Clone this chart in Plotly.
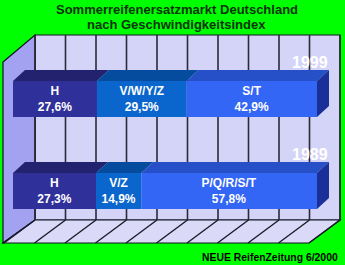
import plotly.graph_objects as go

# ---- data ----
years = ["1999", "1989"]
segments_1999 = ["H", "V/W/Y/Z", "S/T"]
values_1999 = [27.6, 29.5, 42.9]
segments_1989 = ["H", "V/Z", "P/Q/R/S/T"]
values_1989 = [27.3, 14.9, 57.8]
front_colors = ["#30309A", "#0A66CC", "#3366F4"]
top_colors = ["#22226E", "#064C9E", "#2650C8"]
side_color = "#1B2F98"
title_lines = ["Sommerreifenersatzmarkt Deutschland", "nach Geschwindigkeitsindex"]
source_text = "NEUE ReifenZeitung 6/2000"

W, H = 345, 265
SX = 3.04      # px per % on the bar plane
X0PX = 13      # pixel of 0% on bar plane
YC0 = 99       # pixel centre of first category
SY = 92        # px per category


def px2x(p):
    return (p - X0PX) / SX


def px2y(p):
    return (p - YC0) / SY


bar_w = 36 / SY
ddx = 12 / SX
ddy = -11 / SY

fig = go.Figure()
shapes = []

# ---- box: back wall, left wall, floor ----
bx0, bx1 = px2x(35), px2x(340)
by0, by1 = px2y(35), px2y(220)
fx0 = px2x(4)
fy = px2y(243)
lx = px2x(3)
ly_top = px2y(62)
fx1 = fx0 + (bx1 - bx0)


def path(pts):
    return "M " + " L ".join(f"{a},{b}" for a, b in pts) + " Z"


shapes.append(dict(type="path", path=path([(bx0, by0), (bx1, by0), (bx1, by1), (bx0, by1)]),
                   fillcolor="#D4D4F8", line=dict(color="#111122", width=1.2), layer="below"))
shapes.append(dict(type="path", path=path([(lx, ly_top), (bx0, by0), (bx0, by1), (lx, fy)]),
                   fillcolor="#A2A2F0", line=dict(color="#111122", width=1.2), layer="below"))
shapes.append(dict(type="path", path=path([(bx0, by1), (bx1, by1), (fx1, fy), (lx, fy)]),
                   fillcolor="#DADAF8", line=dict(color="#111122", width=1.2), layer="below"))

for k in range(11):
    gx = bx0 + k * (bx1 - bx0) / 10
    shapes.append(dict(type="line", x0=gx, x1=gx, y0=by0, y1=by1,
                       line=dict(color="#2A2A3A", width=1.6), layer="below"))
    fxk = fx0 + k * (bx1 - bx0) / 10
    shapes.append(dict(type="line", x0=gx, x1=fxk, y0=by1, y1=fy,
                       line=dict(color="#1A1A2A", width=1.4), layer="below"))

# ---- bars ----
all_segments = [segments_1999, segments_1989]
all_values = [values_1999, values_1989]
for i, (segs, vals) in enumerate(zip(all_segments, all_values)):
    cum = 0.0
    yt = i - bar_w / 2
    yb = i + bar_w / 2
    for j, (s, v) in enumerate(zip(segs, vals)):
        label = f"<b>{s}<br>{v:.1f}%</b>".replace(".", ",")
        fig.add_trace(go.Bar(
            orientation="h", y=[i], x=[v], base=[cum], width=bar_w,
            marker=dict(color=front_colors[j], line=dict(width=0)),
            text=[label], textposition="inside", insidetextanchor="middle",
            textangle=0,
            textfont=dict(color="white", size=12, family="Liberation Sans, Arial"),
            hoverinfo="skip", showlegend=False))
        shapes.append(dict(type="path",
                           path=path([(cum, yt), (cum + v, yt), (cum + v + ddx, yt + ddy), (cum + ddx, yt + ddy)]),
                           fillcolor=top_colors[j], line=dict(width=0)))
        cum += v
    shapes.append(dict(type="path",
                       path=path([(cum, yt), (cum + ddx, yt + ddy), (cum + ddx, yb + ddy), (cum, yb)]),
                       fillcolor=side_color, line=dict(width=0)))

annotations = []
for i, yr in enumerate(years):
    annotations.append(dict(x=px2x(330), y=i - bar_w / 2 + px2y(YC0 - 19), xref="x", yref="y",
                            text=f"<b>{yr}</b>", showarrow=False, xanchor="right", yanchor="middle",
                            font=dict(color="#FFFFFF", size=16, family="Liberation Sans, Arial")))

annotations.append(dict(x=0.513, y=1 - 10 / H, xref="paper", yref="paper", showarrow=False,
                        text=f"<b>{title_lines[0]}</b>", xanchor="center", yanchor="middle",
                        font=dict(color="#0A340A", size=13, family="Liberation Sans, Arial")))
annotations.append(dict(x=0.513, y=1 - 25 / H, xref="paper", yref="paper", showarrow=False,
                        text=f"<b>{title_lines[1]}</b>", xanchor="center", yanchor="middle",
                        font=dict(color="#0A340A", size=13, family="Liberation Sans, Arial")))
annotations.append(dict(x=340 / W, y=1 - 257 / H, xref="paper", yref="paper", showarrow=False,
                        text=f"<b>{source_text}</b>", xanchor="right", yanchor="middle",
                        font=dict(color="#000000", size=10.4, family="Liberation Sans, Arial")))

fig.update_layout(
    width=W, height=H, margin=dict(l=0, r=0, t=0, b=0),
    paper_bgcolor="#00FF00", plot_bgcolor="#00FF00",
    barmode="overlay", showlegend=False,
    xaxis=dict(range=[px2x(0), px2x(W)], visible=False, fixedrange=True),
    yaxis=dict(range=[px2y(H), px2y(0)], visible=False, fixedrange=True),
    shapes=shapes, annotations=annotations,
    uniformtext=dict(minsize=8, mode="show"),
)

fig.write_html("out.html")
